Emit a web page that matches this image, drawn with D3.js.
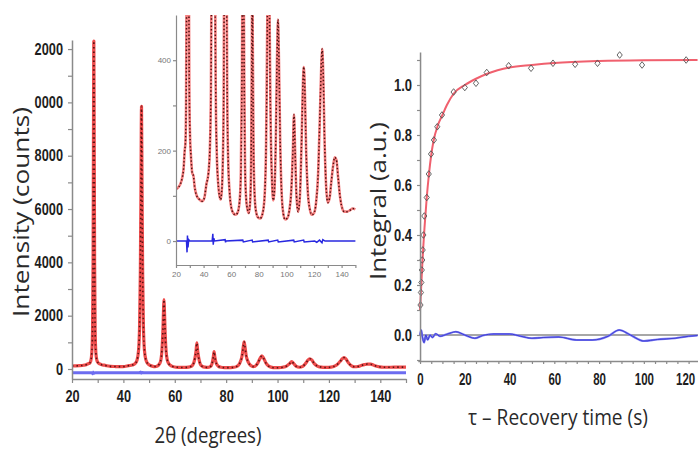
<!DOCTYPE html>
<html><head><meta charset="utf-8">
<script src="https://cdn.jsdelivr.net/npm/d3@7"></script>
<style>body{margin:0;background:#fff} svg{display:block}</style>
</head><body><svg id="c" width="698" height="450"></svg>
<script>
// ---------- XRD pattern (Rietveld plot) ----------
const xrdAngle = [20,21.5,23,24.5,25.5,26.3,26.8,27.3,27.7,28.0,
  28.2,28.35,28.5,28.65,28.8,29.0,29.3,29.7,30.2,30.8,
  31.8,32.6,33.5,35,37,39,40.5,42,43.5,44.5,
  45.3,45.9,46.3,46.6,46.85,47.05,47.25,47.5,47.8,48.2,
  48.8,49.5,50.5,51.5,52.3,53,53.8,54.5,55.0,55.4,
  55.65,55.8,55.95,56.2,56.6,57.1,57.8,58.8,60,61.5,
  63,64.5,66,67,67.8,68.3,68.6,68.9,69.4,70,
  70.8,71.8,72.8,73.8,74.5,75.0,75.3,75.6,76.2,77,
  78,79.5,81,82.5,84,85.2,86.2,86.7,87.0,87.3,
  87.8,88.6,89.6,90.5,91.3,92.3,93.2,93.9,94.6,95.5,
  96.5,97.8,99,100.5,102,103.5,104.7,105.5,106.3,107.3,
  108.5,109.8,111,112,112.6,113.3,114.3,115.5,117,118.5,
  120,121.5,123,124.3,125.3,125.9,126.6,127.6,128.8,130,
  131.3,132.5,133.8,135,136.2,137.5,139,140.5,142,144,
  146,148,150];
const xrdCounts = [115,118,125,140,160,200,215,300,600,1500,
  4000,8500,12300,8500,4000,1500,600,320,230,190,
  150,145,120,100,92,88,95,125,150,200,
  330,700,1600,3600,7000,9850,7000,3600,1600,700,
  330,200,130,100,92,105,160,300,700,1500,
  2300,2600,2300,1500,700,330,180,110,75,62,
  58,62,85,150,380,700,980,700,380,170,
  95,70,62,90,200,450,650,450,200,100,
  65,52,50,58,90,200,500,850,1020,850,
  500,260,130,90,110,220,400,490,400,220,
  110,60,48,50,65,110,200,280,200,100,
  65,100,220,350,385,340,200,110,70,58,
  62,85,150,280,390,425,380,230,120,85,
  95,130,165,185,180,140,95,72,65,65,
  68,72,70];
const diffAngle = [20,27.6,28.0,28.3,28.7,29.2,30,46.2,46.7,47.0,47.4,48,55.6,55.9,56.2,68.4,68.8,75.2,75.5,86.8,87.2,93.7,94.1,105.3,105.7,112.5,112.9,120.5,122,124,125.8,126.4,128,150];
const diffCounts = [0,0,-25,12,-14,3,0,0,16,-8,6,0,3,-3,0,2,-2,2,-2,2,-2,2,-2,2,-2,2,-2,0,-3,2,-4,3,0,0];
const diffOffsetMain = -140;
const mainYTickValues = [0,2000,4000,6000,8000,10000,12000];
const mainYTickLabels = ["0","2000","4000","6000","8000","0000","2000"];
const mainXTickLabels = [20,40,60,80,100,120,140];
const insetYTickLabels = [0,200,400];

// ---------- T1 recovery ----------
const tauObs = [0.2,0.4,0.6,0.8,1.0,1.2,1.5,1.9,3,3.9,4.9,6.2,7.7,9.8,15,20,25,29.8,39.6,49.6,59.4,69.3,79.3,89.2,99.2,118.9];
const intObs = [0.12,0.17,0.21,0.26,0.30,0.34,0.40,0.476,0.55,0.644,0.724,0.78,0.833,0.88,0.972,0.99,1.007,1.05,1.077,1.067,1.087,1.083,1.087,1.12,1.08,1.10];
const tauFit = [0,0.5,1,1.5,2,3,4,5,6,8,10,12,15,20,25,30,40,50,60,80,100,124];
const intFit = [0.1,0.19,0.28,0.36,0.43,0.55,0.645,0.72,0.775,0.84,0.88,0.92,0.965,1.0,1.025,1.045,1.07,1.08,1.088,1.096,1.099,1.1];
const tauRes = [0,0.5,1,1.8,2.6,3.4,4.5,5.5,7,9,12,16,20,24.5,28,33,40,45,50,55,62,70,77,84,89,94,100,106,114,120,124];
const intRes = [0,0.02,-0.005,-0.03,0,-0.02,0,-0.01,0.005,-0.005,0.003,0.013,0,-0.013,-0.002,0.004,0.004,-0.005,-0.013,-0.01,-0.008,-0.02,-0.02,-0.005,0.02,0,-0.024,-0.018,-0.013,-0.005,-0.002];
const rightXTickLabels = [0,20,40,60,80,100,120];

const svg = d3.select("#c");
const tickFont = "'Liberation Sans','Arial',sans-serif";
const titleFont = "'Open Sans','Noto Sans',sans-serif";
const axisCol = "#8a8a8a";

// condense tick labels horizontally (bold narrow look) with a scale transform
function styleAxis(g, fs, col, weight, charW) {
  g.select(".domain").attr("stroke", axisCol).attr("stroke-width", 1.5);
  g.selectAll(".tick line").attr("stroke", axisCol).attr("stroke-width", 1.2);
  g.selectAll(".tick text").attr("font-family", tickFont).attr("font-size", fs)
    .attr("font-weight", weight).attr("fill", col)
    .each(function() {
      const t = this.textContent;
      if (t.length && charW) {
        let w = 0; for (const ch of t) w += (ch === ".") ? charW*0.48 : charW;
        const nat = this.getComputedTextLength();
        const sx = w / nat;
        const x0 = +(this.getAttribute("x") || 0);
        d3.select(this).attr("x", x0 / sx).attr("transform", `scale(${sx},1)`);
      }
    });
}

const xrd = d3.zip(xrdAngle, xrdCounts);
const dif = d3.zip(diffAngle, diffCounts);

// ================= MAIN XRD =================
const xM = d3.scaleLinear().domain([20,150]).range([72,406]);
const yM = d3.scaleLinear().domain([-375,12340]).range([379,40]);
const lineM = d3.line().x(d=>xM(d[0])).y(d=>yM(d[1])).curve(d3.curveMonotoneX);
svg.append("path").datum(dif).attr("fill","none").attr("stroke","#6c6cf0").attr("stroke-width",3)
  .attr("d", d3.line().x(d=>xM(d[0])).y(d=>yM(d[1]+diffOffsetMain)));
svg.append("path").datum(xrd).attr("fill","none").attr("stroke","#ee4c4c").attr("stroke-width",3.2)
  .attr("stroke-linejoin","round").attr("d", lineM);
svg.append("path").datum(xrd).attr("fill","none").attr("stroke","#5a1414").attr("stroke-width",1.6)
  .attr("stroke-dasharray","1.5 3").attr("d", lineM);

const gyM = svg.append("g").attr("transform","translate(72,0)")
  .call(d3.axisLeft(yM).tickValues(d3.range(0,12001,1000)).tickSize(4).tickSizeOuter(0).tickPadding(5)
    .tickFormat(d => { const i = mainYTickValues.indexOf(d); return i>=0 ? mainYTickLabels[i] : ""; }));
styleAxis(gyM, 16, "#1e1e1e", "bold", 7.1);
const gxM = svg.append("g").attr("transform","translate(0,379)")
  .call(d3.axisBottom(xM).tickValues(d3.range(20,151,10)).tickSize(4).tickSizeOuter(0).tickPadding(8)
    .tickFormat(d => mainXTickLabels.includes(d) ? d : ""));
styleAxis(gxM, 16, "#1e1e1e", "bold", 7.1);

// ================= INSET =================
const xI = d3.scaleLinear().domain([20,150]).range([176,355.4]);
const yI = d3.scaleLinear().domain([-53,500]).range([265,15]);
svg.append("clipPath").attr("id","clipI").append("rect").attr("x",176).attr("y",15).attr("width",185).attr("height",250);
const lineI = d3.line().x(d=>xI(d[0])).y(d=>yI(d[1])).curve(d3.curveMonotoneX);
const gI = svg.append("g").attr("clip-path","url(#clipI)");
gI.append("path").datum(xrd).attr("fill","none").attr("stroke","#f47f7f").attr("stroke-width",2.6)
  .attr("stroke-linejoin","round").attr("d", lineI);
gI.append("path").datum(xrd).attr("fill","none").attr("stroke","#4e1010").attr("stroke-width",1.5)
  .attr("stroke-dasharray","1.4 2.2").attr("d", lineI);
gI.append("path").datum(dif).attr("fill","none").attr("stroke","#2828e0").attr("stroke-width",1.5)
  .attr("d", d3.line().x(d=>xI(d[0])).y(d=>yI(d[1])));
const gyI = svg.append("g").attr("transform","translate(176,0)")
  .call(d3.axisLeft(yI).tickValues(d3.range(0,401,100)).tickSize(3).tickSizeOuter(0).tickPadding(2)
    .tickFormat(d => insetYTickLabels.includes(d) ? d : ""));
styleAxis(gyI, 8, "#777", "normal", 0);
gyI.select(".domain").attr("stroke-width",1.2);
const gxI = svg.append("g").attr("transform","translate(0,265)")
  .call(d3.axisBottom(xI).tickValues(d3.range(20,151,10)).tickSize(3).tickSizeOuter(0).tickPadding(3)
    .tickFormat(d => mainXTickLabels.includes(d) ? d : ""));
styleAxis(gxI, 8, "#777", "normal", 0);
gxI.select(".domain").attr("stroke-width",1.2);

// ================= RIGHT: recovery =================
const xR = d3.scaleLinear().domain([-1,124.2]).range([417.8,698]);
const yR = d3.scaleLinear().domain([-0.104,1.132]).range([361,52]);
svg.append("line").attr("x1",xR(0)).attr("x2",698).attr("y1",yR(0)).attr("y2",yR(0))
  .attr("stroke","#8a8a8a").attr("stroke-width",1.5);
const resLine = d3.line().x(d=>xR(d[0])).y(d=>yR(d[1])).curve(d3.curveMonotoneX);
svg.append("path").datum(d3.zip(tauRes,intRes)).attr("fill","none").attr("stroke","#7b7bf5").attr("stroke-width",2.2).attr("d", resLine);
svg.append("path").datum(d3.zip(tauRes,intRes)).attr("fill","none").attr("stroke","#3030c8").attr("stroke-width",0.8).attr("d", resLine);
svg.append("path").datum(d3.zip(tauFit,intFit)).attr("fill","none").attr("stroke","#f0606e").attr("stroke-width",2)
  .attr("d", d3.line().x(d=>xR(d[0])).y(d=>yR(d[1])).curve(d3.curveMonotoneX));
svg.append("g").selectAll("path").data(d3.zip(tauObs,intObs)).join("path")
  .attr("transform", d=>`translate(${xR(d[0])},${yR(d[1])})`)
  .attr("d","M0,-3.3L2.6,0L0,3.3L-2.6,0Z").attr("fill","none").attr("stroke","#555").attr("stroke-width",0.9);

const gyR = svg.append("g").attr("transform",`translate(${xR(0)},0)`)
  .call(d3.axisLeft(yR).tickValues(d3.range(-1,12).map(i=>i/10)).tickSize(3).tickSizeOuter(0).tickPadding(5)
    .tickFormat(d => { const i = Math.round(d*10); return (i>=0 && i%2===0) ? d3.format(".1f")(d) : ""; }));
styleAxis(gyR, 16, "#1e1e1e", "bold", 7.3);
const gxR = svg.append("g").attr("transform","translate(0,361)")
  .call(d3.axisBottom(xR).tickValues(d3.range(0,121,5)).tickSize(3).tickSizeOuter(0).tickPadding(10)
    .tickFormat(d => rightXTickLabels.includes(d) ? d : ""));
// the last label is nudged left so it stays inside the canvas
gxR.selectAll(".tick text").filter(d => d === 120).attr("x", -3.5);
styleAxis(gxR, 16, "#1e1e1e", "bold", 6.4);

// ================= TITLES =================
function title(x, y, rot, txt, len, fs) {
  svg.append("text").attr("transform",`translate(${x},${y}) rotate(${rot})`)
    .attr("text-anchor","middle").attr("font-family",titleFont).attr("font-size",fs)
    .attr("fill","#2a2a2a").attr("textLength",len).attr("lengthAdjust","spacingAndGlyphs").text(txt);
}
title(29, 212, -90, "Intensity (counts)", 210, 22);
title(208, 443, 0, "2θ (degrees)", 107, 21);
title(386, 201, -90, "Integral (a.u.)", 158, 21);
title(558, 425, 0, "τ – Recovery time (s)", 180, 21);
</script></body></html>
